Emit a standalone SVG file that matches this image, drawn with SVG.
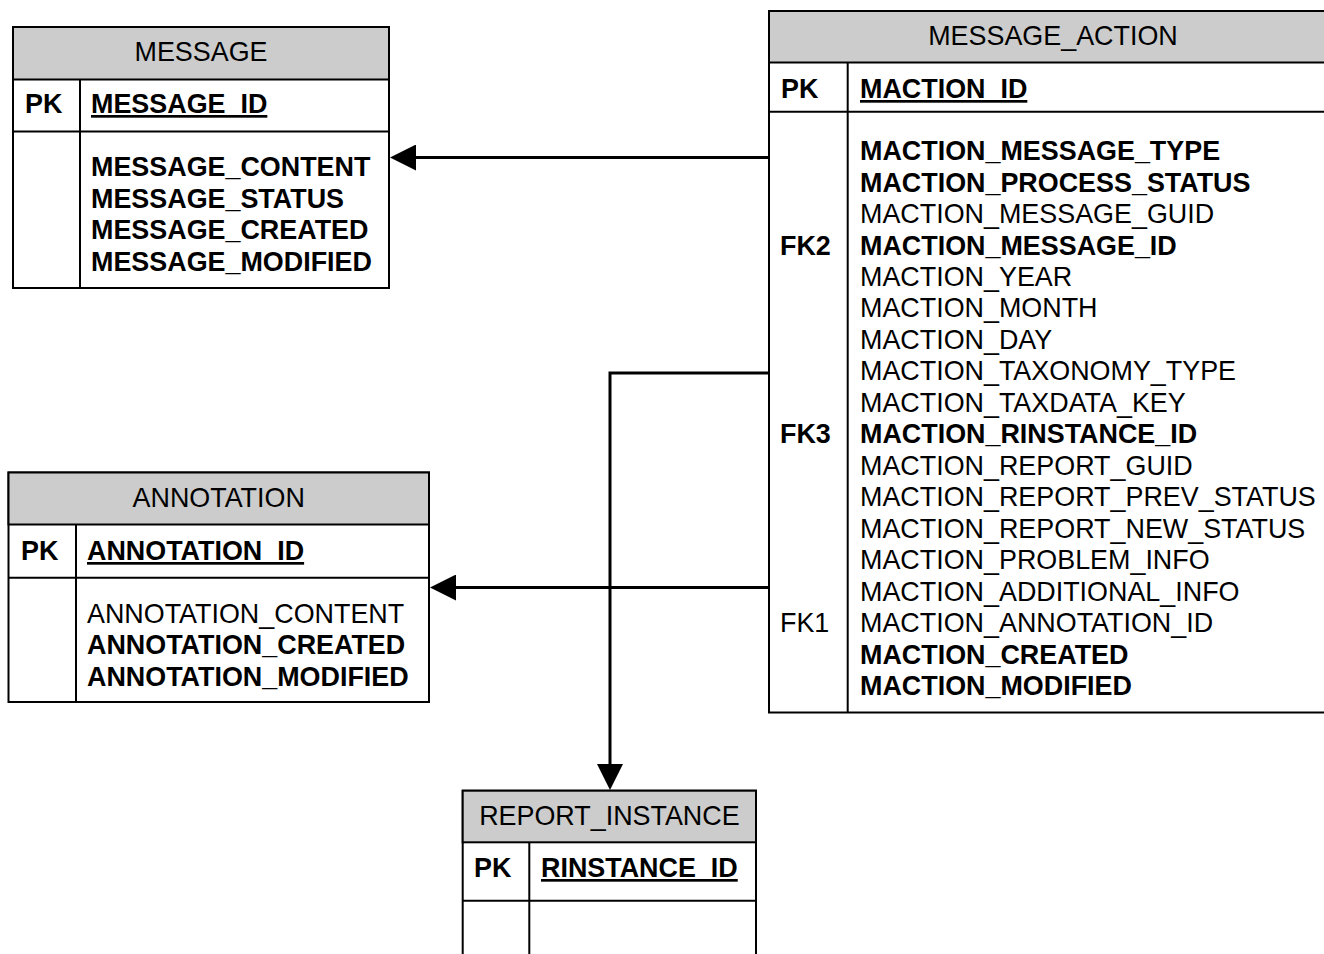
<svg xmlns="http://www.w3.org/2000/svg" width="1324" height="954" viewBox="0 0 1324 954">
  <style>
    text { font-family: "Liberation Sans", Arial, sans-serif; font-size: 26.9px; fill: #000; }
    .hdr { text-anchor: middle; }
    .b { font-weight: bold; }
    .pk { font-weight: bold; text-decoration: underline; }
    .frame { fill: #fff; stroke: #000; stroke-width: 2; }
    .head { fill: #cccccc; stroke: #000; stroke-width: 2; }
    .rule { stroke: #000; stroke-width: 2; fill: none; }
    .conn { stroke: #000; stroke-width: 3; fill: none; marker-end: url(#arrow); }
  </style>
  <defs>
    <marker id="arrow" viewBox="0 0 26 26" refX="0" refY="13" markerWidth="26" markerHeight="26" markerUnits="userSpaceOnUse" orient="auto">
      <path d="M0,0 L26,13 L0,26 Z" fill="#000"/>
    </marker>
  </defs>
  <rect width="1324" height="954" fill="#fff"/>

  <!-- MESSAGE entity -->
  <g id="message">
    <rect class="frame" x="13" y="27" width="376" height="261"/>
    <rect class="head" x="13" y="27" width="376" height="52.5"/>
    <line class="rule" x1="13" y1="131.5" x2="389" y2="131.5"/>
    <line class="rule" x1="80" y1="79.5" x2="80" y2="288"/>
    <text class="hdr" x="201" y="60.5">MESSAGE</text>
    <text class="b" x="25" y="113">PK</text>
    <text class="pk" x="91" y="113">MESSAGE_ID</text>
    <text class="b" x="91" y="176">MESSAGE_CONTENT</text>
    <text class="b" x="91" y="207.5">MESSAGE_STATUS</text>
    <text class="b" x="91" y="239">MESSAGE_CREATED</text>
    <text class="b" x="91" y="270.5">MESSAGE_MODIFIED</text>
  </g>

  <!-- MESSAGE_ACTION entity -->
  <g id="message_action">
    <rect class="frame" x="769" y="11" width="568" height="701.5"/>
    <rect class="head" x="769" y="11" width="568" height="51.5"/>
    <line class="rule" x1="769" y1="111.7" x2="1337" y2="111.7"/>
    <line class="rule" x1="847.7" y1="62.5" x2="847.7" y2="712.5"/>
    <text class="hdr" x="1053" y="45">MESSAGE_ACTION</text>
    <text class="b" x="781" y="98">PK</text>
    <text class="pk" x="860" y="98">MACTION_ID</text>
    <text class="b" x="780" y="254.5">FK2</text>
    <text class="b" x="780" y="443.3">FK3</text>
    <text x="780" y="632.1">FK1</text>
    <text class="b" x="860" y="160">MACTION_MESSAGE_TYPE</text>
    <text class="b" x="860" y="191.5">MACTION_PROCESS_STATUS</text>
    <text x="860" y="222.9">MACTION_MESSAGE_GUID</text>
    <text class="b" x="860" y="254.5">MACTION_MESSAGE_ID</text>
    <text x="860" y="285.9">MACTION_YEAR</text>
    <text x="860" y="317.3">MACTION_MONTH</text>
    <text x="860" y="348.8">MACTION_DAY</text>
    <text x="860" y="380.3">MACTION_TAXONOMY_TYPE</text>
    <text x="860" y="411.8">MACTION_TAXDATA_KEY</text>
    <text class="b" x="860" y="443.3">MACTION_RINSTANCE_ID</text>
    <text x="860" y="474.7">MACTION_REPORT_GUID</text>
    <text x="860" y="506.2">MACTION_REPORT_PREV_STATUS</text>
    <text x="860" y="537.7">MACTION_REPORT_NEW_STATUS</text>
    <text x="860" y="569.1">MACTION_PROBLEM_INFO</text>
    <text x="860" y="600.6">MACTION_ADDITIONAL_INFO</text>
    <text x="860" y="632.1">MACTION_ANNOTATION_ID</text>
    <text class="b" x="860" y="663.5">MACTION_CREATED</text>
    <text class="b" x="860" y="695">MACTION_MODIFIED</text>
  </g>

  <!-- ANNOTATION entity -->
  <g id="annotation">
    <rect class="frame" x="8.5" y="472.5" width="420.5" height="229.5"/>
    <rect class="head" x="8.5" y="472.5" width="420.5" height="52"/>
    <line class="rule" x1="8.5" y1="577.7" x2="429" y2="577.7"/>
    <line class="rule" x1="76" y1="524.5" x2="76" y2="702"/>
    <text class="hdr" x="218.7" y="507">ANNOTATION</text>
    <text class="b" x="21" y="560">PK</text>
    <text class="pk" x="87" y="560">ANNOTATION_ID</text>
    <text x="87" y="622.5">ANNOTATION_CONTENT</text>
    <text class="b" x="87" y="654">ANNOTATION_CREATED</text>
    <text class="b" x="87" y="685.5">ANNOTATION_MODIFIED</text>
  </g>

  <!-- REPORT_INSTANCE entity -->
  <g id="report_instance">
    <rect class="frame" x="462.7" y="790.7" width="293.3" height="180"/>
    <rect class="head" x="462.7" y="790.7" width="293.3" height="51.6"/>
    <line class="rule" x1="462.7" y1="900.7" x2="756" y2="900.7"/>
    <line class="rule" x1="529.3" y1="842.3" x2="529.3" y2="970"/>
    <text class="hdr" x="609.4" y="825">REPORT_INSTANCE</text>
    <text class="b" x="474" y="877">PK</text>
    <text class="pk" x="541" y="877">RINSTANCE_ID</text>
  </g>

  <!-- foreign key relationships -->
  <g id="connectors">
    <path class="conn" d="M769,157.5 H416"/>
    <path class="conn" d="M769,587.5 H456"/>
    <path class="conn" d="M769,373 H610 V764"/>
  </g>
</svg>
